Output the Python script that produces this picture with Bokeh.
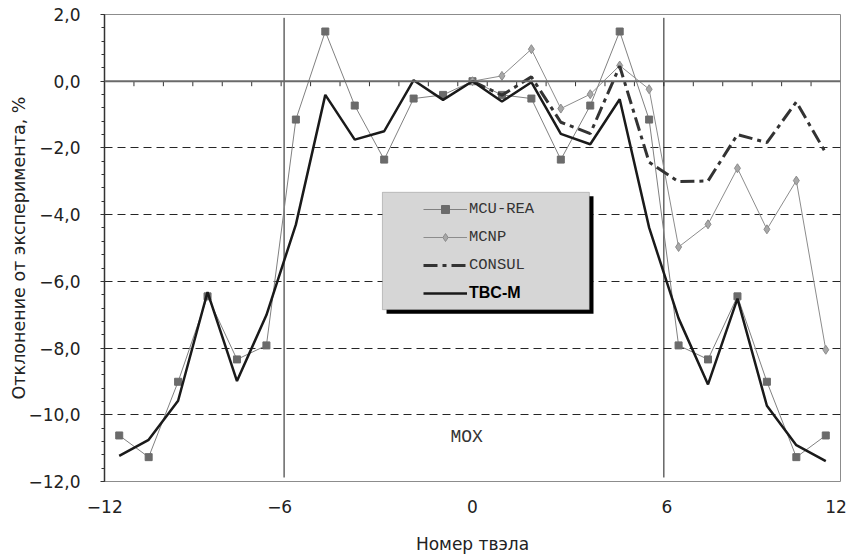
from bokeh.plotting import figure
from bokeh.models import (Range1d, FixedTicker, SingleIntervalTicker, Span, Legend,
                          LegendItem, BoxAnnotation)
from bokeh.core.properties import value
from bokeh.embed import file_html
from bokeh.resources import INLINE

# ---------------- data ----------------
pins = list(range(-12, 13))
mcu_rea = [-10.62, -11.27, -9.01, -6.45, -8.34, -7.92, -1.15, 1.49, -0.73, -2.35, -0.52, -0.41,
           0.0, -0.41, -0.52, -2.35, -0.73, 1.49, -1.15, -7.92, -8.34, -6.45, -9.01, -11.27, -10.62]
tbc_m = [-11.23, -10.75, -9.58, -6.32, -8.99, -7.01, -4.30, -0.41, -1.75, -1.50, 0.03, -0.56,
         0.0, -0.61, -0.03, -1.58, -1.89, -0.54, -4.39, -7.11, -9.09, -6.52, -9.73, -10.91, -11.39]
half_pins = list(range(0, 13))
mcnp = [0.0, 0.16, 0.96, -0.82, -0.39, 0.47, -0.24, -4.97, -4.29, -2.61, -4.44, -2.98, -8.05]
consul = [0.0, -0.42, 0.13, -1.23, -1.57, 0.45, -2.43, -3.01, -2.99, -1.60, -1.84, -0.62, -2.15]

series_names = ["MCU-REA", "MCNP", "CONSUL", "TBC-M"]
x_tick_labels = ["\u221212", "\u22126", "0", "6", "12"]
x_tick_pos = [-12.49, -6.55, 0.0, 6.6, 12.35]
y_ticks = [-12, -10, -8, -6, -4, -2, 0, 2]
y_tick_labels = ["\u221212,0", "\u221210,0", "\u22128,0", "\u22126,0", "\u22124,0", "\u22122,0", "0,0", "2,0"]
grid_levels = [-12, -10, -8, -6, -4, -2]
zone_bounds = [-6.4, 6.5]
zone_top, zone_bottom = 1.9, -11.88
zone_label = "MOX"
zone_label_pos = (-0.2, -10.66)

FONT = "DejaVu Sans"

p = figure(width=848, height=556, output_backend="svg", toolbar_location=None,
           x_range=Range1d(-12.5, 12.5), y_range=Range1d(-12, 2),
           min_border_left=104, min_border_right=8, min_border_top=14, min_border_bottom=69)
p.outline_line_color = "#8c8c8c"
p.outline_line_width = 1
p.background_fill_color = "white"

# grid
p.xgrid.visible = False
p.ygrid.ticker = FixedTicker(ticks=grid_levels)
p.ygrid.grid_line_color = "#262626"
p.ygrid.grid_line_dash = "8 5"
p.ygrid.grid_line_width = 1

# y axis
ya = p.yaxis[0]
ya.ticker = SingleIntervalTicker(interval=2, num_minor_ticks=5)
ya.major_label_overrides = {t: l for t, l in zip(y_ticks, y_tick_labels)}
ya.axis_line_color = "#333333"
ya.axis_line_width = 1.5
ya.major_tick_line_color = "#333333"
ya.minor_tick_line_color = "#333333"
ya.major_tick_in = 0
ya.major_tick_out = 4
ya.minor_tick_in = 0
ya.minor_tick_out = 3
ya.major_label_standoff = 20
ya.major_label_text_font = FONT
ya.major_label_text_font_size = "17px"
ya.major_label_text_color = "#222222"
ya.axis_label = "Отклонение от эксперимента, %"
ya.axis_label_text_font = FONT
ya.axis_label_text_font_size = "17.5px"
ya.axis_label_text_font_style = "normal"
ya.axis_label_text_color = "#222222"
ya.axis_label_standoff = -4

# x axis
xa = p.xaxis[0]
xa.ticker = FixedTicker(ticks=x_tick_pos)
xa.major_label_overrides = {t: l for t, l in zip(x_tick_pos, x_tick_labels)}
xa.axis_line_color = None
xa.major_tick_line_color = None
xa.minor_tick_line_color = None
xa.major_tick_in = 0
xa.major_tick_out = 0
xa.major_label_standoff = 18
xa.major_label_text_font = FONT
xa.major_label_text_font_size = "17px"
xa.major_label_text_color = "#222222"
xa.axis_label = "Номер твэла"
xa.axis_label_text_font = FONT
xa.axis_label_text_font_size = "17px"
xa.axis_label_text_font_style = "normal"
xa.axis_label_text_color = "#222222"
xa.axis_label_standoff = 18

# zero axis with category ticks
p.add_layout(Span(location=0, dimension="width", line_color="#6a6a6a", line_width=2))
tick_x = [(a + b) / 2 for a, b in zip(pins[:-1], pins[1:])]
p.segment(x0=tick_x, y0=[0] * len(tick_x), x1=tick_x, y1=[-0.15] * len(tick_x),
          line_color="#333333", line_width=1)

# zone boundaries
p.segment(x0=zone_bounds, y0=[zone_top] * 2, x1=zone_bounds, y1=[zone_bottom] * 2,
          line_color="#1a1a1a", line_width=1)
p.text(x=[zone_label_pos[0]], y=[zone_label_pos[1]], text=[zone_label],
       text_align="center", text_baseline="middle", text_font=value("Liberation Mono"),
       text_font_size="18px", text_color="#333333")

# series
r_mcu_l = p.line(pins, mcu_rea, line_color="#808080", line_width=1)
r_mcu_m = p.scatter(pins, mcu_rea, marker="square", size=7, fill_color="#6b6b6b", line_color="#6b6b6b")
r_mcnp_l = p.line(half_pins, mcnp, line_color="#8c8c8c", line_width=1)
r_mcnp_m = p.scatter(half_pins, mcnp, marker="diamond", size=9, fill_color="#a8a8a8", line_color="#8c8c8c")
r_consul = p.line(half_pins, consul, line_color="#333333", line_width=3, line_dash="14 5 4 5")
r_tbc = p.line(pins, tbc_m, line_color="#1a1a1a", line_width=2.5)

# legend box with shadow
p.add_layout(BoxAnnotation(left=-2.92, right=4.11, top=-3.45, bottom=-6.97,
                           fill_color="black", fill_alpha=1, line_color=None))
p.add_layout(BoxAnnotation(left=-3.06, right=3.97, top=-3.33, bottom=-6.85,
                           fill_color="#d6d6d6", fill_alpha=1, line_color="#555555", line_width=1))

leg1 = Legend(items=[LegendItem(label=series_names[0], renderers=[r_mcu_l, r_mcu_m]),
                     LegendItem(label=series_names[1], renderers=[r_mcnp_l, r_mcnp_m]),
                     LegendItem(label=series_names[2], renderers=[r_consul])],
              location=(319, 206), padding=0, margin=0, spacing=8,
              glyph_width=44, glyph_height=20, label_height=20, label_standoff=2,
              label_text_font="Liberation Mono", label_text_font_size="15.5px",
              label_text_color="#333333", background_fill_alpha=0, border_line_color=None)
leg2 = Legend(items=[LegendItem(label=series_names[3], renderers=[r_tbc])],
              location=(319, 178), padding=0, margin=0, spacing=9,
              glyph_width=44, glyph_height=20, label_height=20, label_standoff=2,
              label_text_font="Liberation Sans", label_text_font_size="16px",
              label_text_font_style="bold",
              label_text_color="black", background_fill_alpha=0, border_line_color=None)
p.add_layout(leg1)
p.add_layout(leg2)

open("out.html", "w").write(file_html(p, INLINE))
